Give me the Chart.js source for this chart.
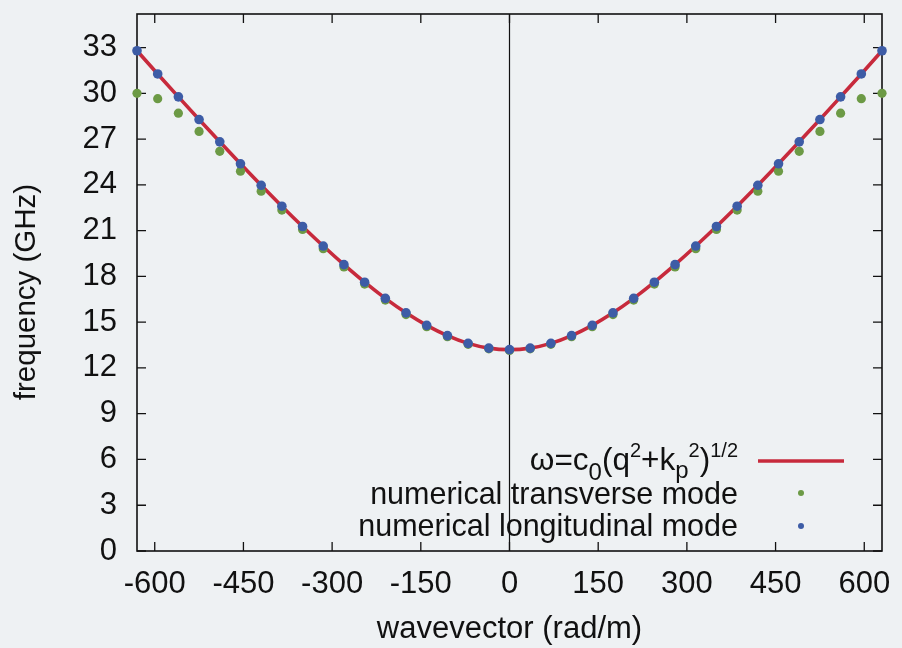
<!DOCTYPE html>
<html>
<head>
<meta charset="utf-8">
<script src="https://cdn.jsdelivr.net/npm/chart.js@4.4.0/dist/chart.umd.min.js"></script>
<style>
  html, body { margin: 0; padding: 0; background: #eef1f3; }
  canvas { display: block; }
</style>
</head>
<body>
<canvas id="dispersion" width="902" height="648"></canvas>
<script>
// wavevector q (rad/m) of the computed modes
const wavevector = [-630, -595, -560, -525, -490, -455, -420, -385, -350, -315, -280, -245, -210, -175, -140, -105, -70, -35,
                    0, 35, 70, 105, 140, 175, 210, 245, 280, 315, 350, 385, 420, 455, 490, 525, 560, 595, 630];

// frequency (GHz)
const longitudinalFreq = [32.79, 31.27, 29.77, 28.28, 26.82, 25.38, 23.97, 22.60, 21.27, 19.99, 18.77, 17.62, 16.56, 15.61, 14.79, 14.12, 13.61, 13.30,
                          13.20, 13.30, 13.61, 14.12, 14.79, 15.61, 16.56, 17.62, 18.77, 19.99, 21.27, 22.60, 23.97, 25.38, 26.82, 28.28, 29.77, 31.27, 32.79];
const transverseFreq = [30.00, 29.65, 28.70, 27.50, 26.20, 24.90, 23.58, 22.35, 21.08, 19.82, 18.62, 17.50, 16.45, 15.50, 14.70, 14.05, 13.55, 13.25,
                        13.15, 13.25, 13.55, 14.05, 14.70, 15.50, 16.45, 17.50, 18.62, 19.82, 21.08, 22.35, 23.58, 24.90, 26.20, 27.50, 28.70, 29.65, 30.00];
// analytic curve omega = c0 (q^2 + kp^2)^1/2, read at the same q
const fitFreq = [32.79, 31.27, 29.77, 28.28, 26.82, 25.38, 23.97, 22.60, 21.27, 19.99, 18.77, 17.62, 16.56, 15.61, 14.79, 14.12, 13.61, 13.30,
                 13.20, 13.30, 13.61, 14.12, 14.79, 15.61, 16.56, 17.62, 18.77, 19.99, 21.27, 22.60, 23.97, 25.38, 26.82, 28.28, 29.77, 31.27, 32.79];

const xTicks = [-600, -450, -300, -150, 0, 150, 300, 450, 600];
const yTicks = [0, 3, 6, 9, 12, 15, 18, 21, 24, 27, 30, 33];

const FONT = "'Liberation Sans', Arial, sans-serif";
const RED = "#c72a3c";
const BLUE = "#3d5ca6";
const GREEN = "#6c9a45";
const INK = "#111111";

const toPoints = (ys) => wavevector.map((q, i) => ({ x: q, y: ys[i] }));

// frame, inward ticks on all four sides, and the q = 0 line
const framePlugin = {
    id: "frame",
    beforeDatasetsDraw(chart) {
        const { ctx, chartArea: a, scales } = chart;
        const tl = 9;
        ctx.save();
        ctx.strokeStyle = INK;

        // zero line
        const x0 = scales.x.getPixelForValue(0);
        ctx.lineWidth = 1.2;
        ctx.beginPath();
        ctx.moveTo(x0, a.top);
        ctx.lineTo(x0, a.bottom);
        ctx.stroke();

        ctx.lineWidth = 1.6;
        ctx.strokeRect(a.left, a.top, a.right - a.left, a.bottom - a.top);

        ctx.lineWidth = 1.3;
        ctx.beginPath();
        xTicks.forEach(v => {
            const px = scales.x.getPixelForValue(v);
            ctx.moveTo(px, a.bottom); ctx.lineTo(px, a.bottom - tl);
            ctx.moveTo(px, a.top); ctx.lineTo(px, a.top + tl);
        });
        yTicks.forEach(v => {
            const py = scales.y.getPixelForValue(v);
            ctx.moveTo(a.left, py); ctx.lineTo(a.left + tl, py);
            ctx.moveTo(a.right, py); ctx.lineTo(a.right - tl, py);
        });
        ctx.stroke();

        // y axis title, sits a little below the middle of the axis
        ctx.translate(27, 292);
        ctx.rotate(-Math.PI / 2);
        ctx.fillStyle = INK;
        ctx.font = "29.5px " + FONT;
        ctx.textAlign = "center";
        ctx.textBaseline = "middle";
        ctx.fillText("frequency (GHz)", 0, 0);
        ctx.restore();
    }
};

// key inside the plot, text right-aligned with the sample to its right
const keyPlugin = {
    id: "key",
    afterDraw(chart) {
        const ctx = chart.ctx;
        const textRight = 738;
        const big = "31.5px " + FONT;
        const sub = "24px " + FONT;
        const sup = "20px " + FONT;
        ctx.save();
        ctx.fillStyle = INK;
        ctx.textBaseline = "alphabetic";
        ctx.textAlign = "left";

        // line 1: omega = c_0 (q^2 + k_p^2)^1/2
        const parts = [
            ["ω=c", big, 0], ["0", sub, 10], ["(q", big, 0], ["2", sup, -13],
            ["+k", big, 0], ["p", sub, 8], ["2", sup, -13], [")", big, 0], ["1/2", sup, -13]
        ];
        let total = 0;
        parts.forEach(p => { ctx.font = p[1]; total += ctx.measureText(p[0]).width; });
        let x = textRight - total;
        const base1 = 470;
        parts.forEach(p => {
            ctx.font = p[1];
            ctx.fillText(p[0], x, base1 + p[2]);
            x += ctx.measureText(p[0]).width;
        });

        ctx.font = "30.5px " + FONT;
        ctx.textAlign = "right";
        ctx.fillText("numerical transverse mode", textRight, 504);
        ctx.fillText("numerical longitudinal mode", textRight, 536);

        // samples
        ctx.strokeStyle = RED;
        ctx.lineWidth = 3.5;
        ctx.beginPath();
        ctx.moveTo(758, 461);
        ctx.lineTo(844, 461);
        ctx.stroke();

        ctx.fillStyle = GREEN;
        ctx.beginPath(); ctx.arc(801, 493, 3, 0, Math.PI * 2); ctx.fill();
        ctx.fillStyle = BLUE;
        ctx.beginPath(); ctx.arc(801, 526, 3, 0, Math.PI * 2); ctx.fill();
        ctx.restore();
    }
};

new Chart(document.getElementById("dispersion"), {
    type: "scatter",
    data: {
        datasets: [
            {
                label: "numerical longitudinal mode",
                data: toPoints(longitudinalFreq),
                backgroundColor: BLUE,
                borderColor: BLUE,
                pointRadius: 4.8,
                borderWidth: 0,
                clip: false,
                order: 0
            },
            {
                label: "numerical transverse mode",
                data: toPoints(transverseFreq),
                backgroundColor: GREEN,
                borderColor: GREEN,
                pointRadius: 4.6,
                borderWidth: 0,
                clip: false,
                order: 1
            },
            {
                label: "fit",
                data: toPoints(fitFreq),
                showLine: true,
                borderColor: RED,
                borderWidth: 3.6,
                pointRadius: 0,
                cubicInterpolationMode: "monotone",
                clip: false,
                order: 2
            }
        ]
    },
    options: {
        responsive: false,
        animation: false,
        layout: { padding: { left: 0, top: 14, right: 20, bottom: 0 } },
        plugins: {
            legend: { display: false },
            tooltip: { enabled: false }
        },
        scales: {
            x: {
                type: "linear",
                min: -630,
                max: 630,
                grid: { display: false, drawTicks: false },
                border: { display: false },
                afterBuildTicks: s => { s.ticks = xTicks.map(v => ({ value: v })); },
                afterFit: s => { s.height = 97; s.paddingLeft = 0; s.paddingRight = 0; },
                ticks: {
                    color: INK,
                    font: { family: FONT, size: 31 },
                    padding: 15,
                    maxRotation: 0,
                    autoSkip: false
                },
                title: {
                    display: true,
                    text: "wavevector (rad/m)",
                    color: INK,
                    font: { family: FONT, size: 31 },
                    padding: { top: 0, bottom: 0 }
                }
            },
            y: {
                type: "linear",
                min: 0,
                max: 35.2,
                grid: { display: false, drawTicks: false },
                border: { display: false },
                afterBuildTicks: s => { s.ticks = yTicks.map(v => ({ value: v })); },
                afterFit: s => { s.width = 137; s.paddingTop = 0; s.paddingBottom = 0; },
                ticks: {
                    color: INK,
                    font: { family: FONT, size: 31 },
                    padding: 20,
                    autoSkip: false
                }
            }
        }
    },
    plugins: [framePlugin, keyPlugin]
});
</script>
</body>
</html>
